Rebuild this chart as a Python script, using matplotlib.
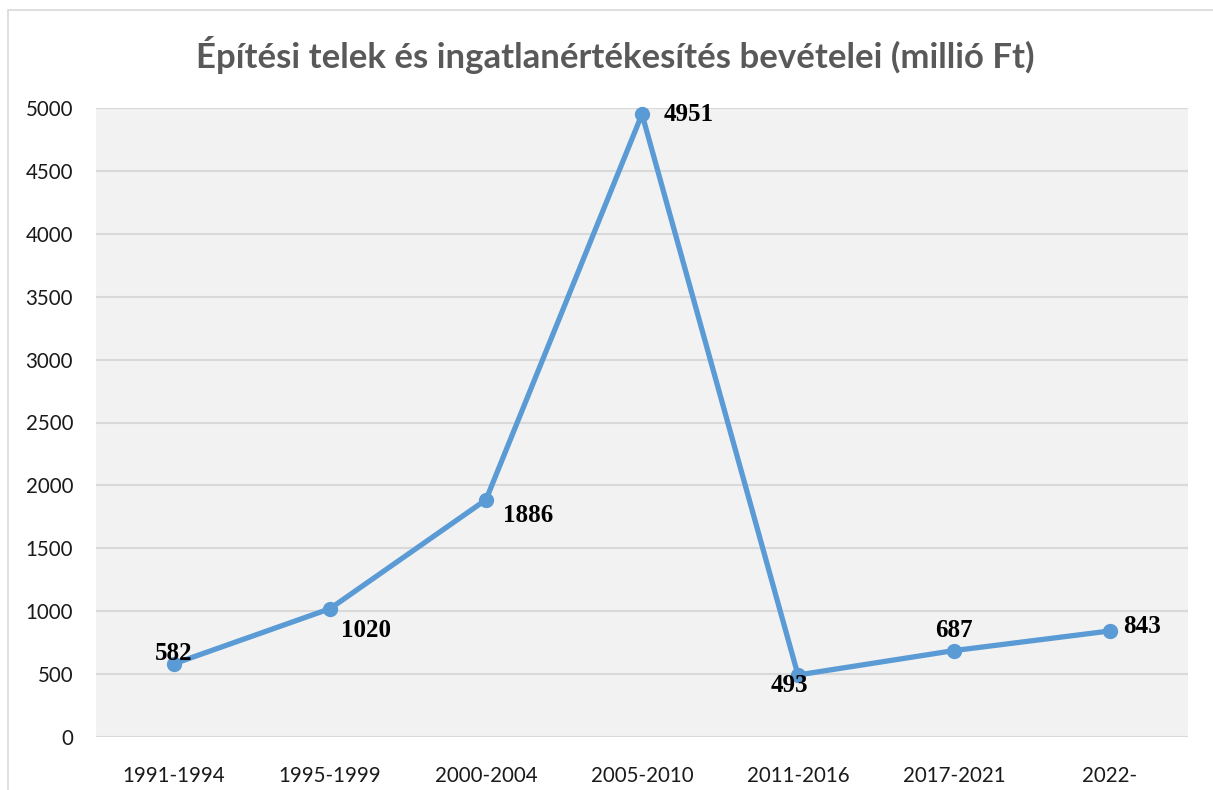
import matplotlib
matplotlib.use("Agg")
import matplotlib.pyplot as plt
from matplotlib.patches import Rectangle

categories = ["1991-1994", "1995-1999", "2000-2004", "2005-2010", "2011-2016", "2017-2021", "2022-"]
values = [582, 1020, 1886, 4951, 493, 687, 843]
yticks = [0, 500, 1000, 1500, 2000, 2500, 3000, 3500, 4000, 4500, 5000]
title = "Építési telek és ingatlanértékesítés bevételei (millió Ft)"

# label offsets in pixels (dx, dy) relative to point
offsets = [(0, 10), (36, -22), (42, -16), (47, 0), (-9, -11), (0, 20), (32, 4)]

W, H = 1213, 790
fig = plt.figure(figsize=(W / 100, H / 100), dpi=100)
fig.patch.set_facecolor("white")

# outer frame
fig.patches.append(Rectangle((8 / W, -0.01), 1.02, (H - 10) / H + 0.01, transform=fig.transFigure,
                             fill=False, edgecolor="#D9D9D9", linewidth=1.2))

ax = fig.add_axes([96 / W, 53 / H, 1092 / W, 629 / H])
ax.set_facecolor("#F2F2F2")
x = list(range(len(categories)))
ax.plot(x, values, color="#5B9BD5", linewidth=3.8, marker="o", markersize=10,
        solid_capstyle="round", zorder=3, clip_on=False)

ax.set_xlim(-0.5, len(categories) - 0.5)
ax.set_ylim(0, 5000)
ax.set_yticks(yticks)
ax.set_yticklabels([str(v) for v in yticks])
ax.set_xticks(x)
ax.set_xticklabels(categories)
ax.grid(axis="y", color="#D9D9D9", linewidth=1.5)
ax.set_axisbelow(True)
for s in ax.spines.values():
    s.set_visible(False)
ax.tick_params(axis="both", length=0, labelsize=14.8, labelcolor="#1a1a1a")
ax.tick_params(axis="y", pad=16.5)
ax.tick_params(axis="x", pad=21)
for lbl in ax.get_xticklabels() + ax.get_yticklabels():
    lbl.set_fontfamily("Lato")

for xi, v, (dx, dy) in zip(x, values, offsets):
    ax.annotate(str(v), (xi, v), xytext=(dx * 0.72, dy * 0.72), textcoords="offset points",
                ha="center", va="center", fontsize=18, fontweight="bold",
                family="Liberation Serif", color="black", zorder=4)

fig.text(615 / W, 1 - 55 / H, title, ha="center", va="center", fontsize=25,
         fontweight="bold", family="Lato", color="#595959")

fig.savefig("out.png", dpi=100)
